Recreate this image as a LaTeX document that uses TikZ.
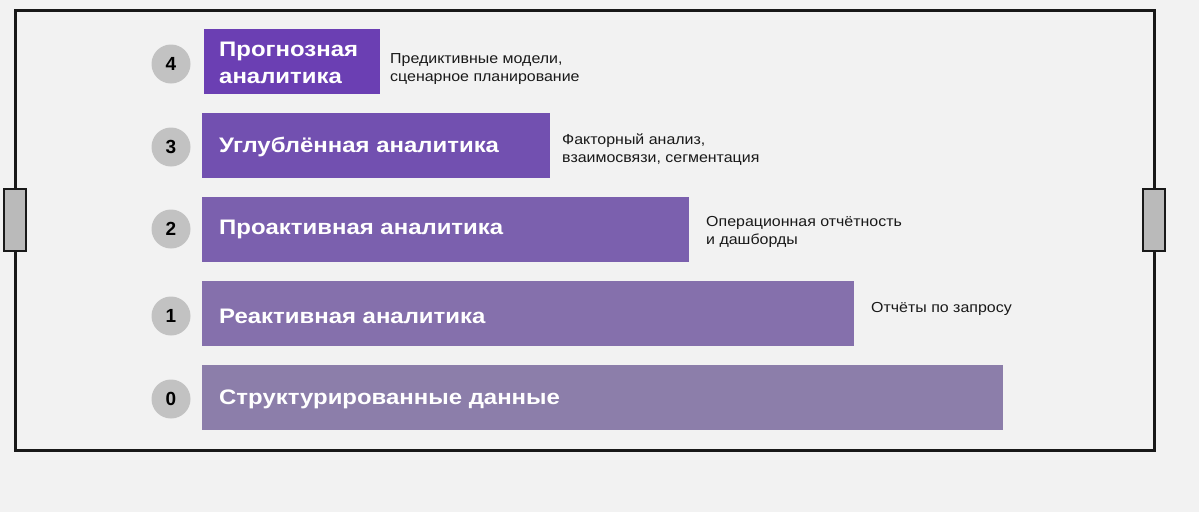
\documentclass[tikz,border=0pt]{standalone}
\usepackage{fontspec}
\setmainfont{Liberation Sans}
\newfontfamily\barfont[FakeStretch=1.14]{Liberation Sans}
\newfontfamily\descfont[FakeStretch=1.1]{Liberation Sans}
\begin{document}
\begin{tikzpicture}[x=1pt,y=-1pt,
  bartext/.style={text=white, font=\barfont\bfseries\fontsize{21}{26.5}\selectfont, anchor=west, inner sep=0pt, align=left},
  desc/.style={text=black!90, font=\descfont\fontsize{14.5}{18}\selectfont, anchor=west, inner sep=0pt, align=left},
  num/.style={circle, fill=black!24, minimum size=39pt, inner sep=0pt, font=\bfseries\fontsize{19}{19}\selectfont},
  frameline/.style={line width=3pt, black!90},
  handle/.style={fill=black!27, draw=black!90, line width=2pt}
]
\definecolor{c4}{HTML}{6B3FB3}
\definecolor{c3}{HTML}{7250B0}
\definecolor{c2}{HTML}{7B60AE}
\definecolor{c1}{HTML}{8570AC}
\definecolor{c0}{HTML}{8C7EAA}
\useasboundingbox[fill=black!5] (0,0) rectangle (1199,512);
% frame
\coordinate (fTL) at (15,10);
\coordinate (fTR) at (1154,10);
\coordinate (fBL) at (15,450);
\coordinate (fBR) at (1154,450);
\draw[frameline] (fTL) -- (fTR) -- (fBR) -- (fBL) -- cycle;
\draw[handle] (4,189) rectangle (26,251);
\draw[handle] (1143,189) rectangle (1165,251);
% bars
\path[fill=c4] (204,29) rectangle (380,94);
\path[fill=c3] (202,113) rectangle (550,178);
\path[fill=c2] (202,197) rectangle (689,262);
\path[fill=c1] (202,281) rectangle (854,346);
\path[fill=c0] (202,365) rectangle (1003,430);
\node[bartext] (b4) at (219,63) {Прогнозная\\аналитика};
\node[bartext] (b3) at (219,147) {Углублённая аналитика};
\node[bartext] (b2) at (219,229) {Проактивная аналитика};
\node[bartext] (b1) at (219,316) {Реактивная аналитика};
\node[bartext] (b0) at (219,399) {Структурированные данные};
% numbers
\node[num] (n4) at (171,64) {4};
\node[num] (n3) at (171,147) {3};
\node[num] (n2) at (171,229) {2};
\node[num] (n1) at (171,316) {1};
\node[num] (n0) at (171,399) {0};
% descriptions
\node[desc] (d4) at (390,69) {Предиктивные модели,\\сценарное планирование};
\node[desc] (d3) at (562,150) {Факторный анализ,\\взаимосвязи, сегментация};
\node[desc] (d2) at (706,232) {Операционная отчётность\\и дашборды};
\node[desc] (d1) at (871,309) {Отчёты по запросу};
\end{tikzpicture}
\end{document}
